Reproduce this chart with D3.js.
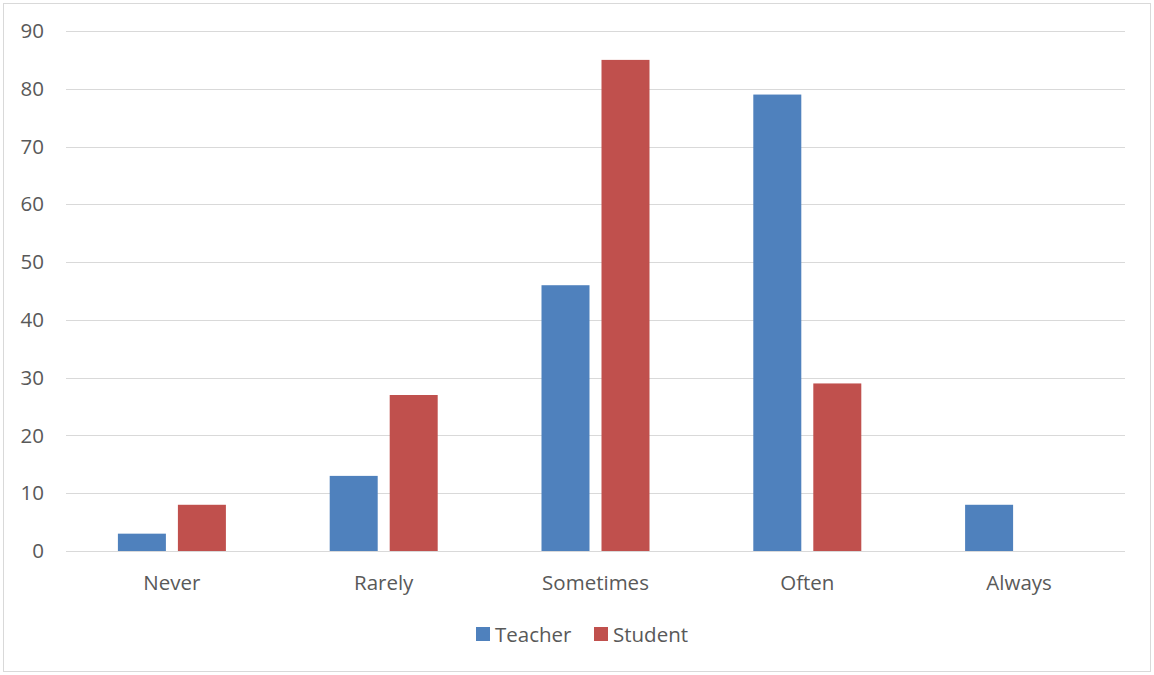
<!DOCTYPE html>
<html>
<head>
<meta charset="utf-8">
<script src="https://cdn.jsdelivr.net/npm/d3@7"></script>
<style>
  html, body { margin: 0; padding: 0; background: #fff; }
  svg { display: block; font-family: "Open Sans", "Noto Sans", sans-serif; }
</style>
</head>
<body>
<svg id="chart" width="1154" height="675"></svg>
<script>
// Response frequency by group
const categories = ["Never", "Rarely", "Sometimes", "Often", "Always"];
const seriesNames = ["Teacher", "Student"];
const teacherValues = [3, 13, 46, 79, 8];
const studentValues = [8, 27, 85, 29, 0];
const yTicks = [0, 10, 20, 30, 40, 50, 60, 70, 80, 90];
const colors = ["#4f81bd", "#c0504d"];

const svg = d3.select("#chart");
const W = 1154, H = 675;
const plot = { left: 66, right: 1125, top: 31, bottom: 551 };
const fontSize = 20.5;

// outer chart frame
svg.append("rect")
  .attr("x", 3.5).attr("y", 3.5)
  .attr("width", W - 7).attr("height", H - 7)
  .attr("fill", "#fff").attr("stroke", "#d9d9d9").attr("stroke-width", 1);

const x = d3.scaleBand().domain(categories).range([plot.left, plot.right]).padding(0);
const y = d3.scaleLinear().domain([0, 90]).range([plot.bottom, plot.top]);

// bar geometry inside each category band
const barW = 48, barGap = 12;
const xs = d3.scaleBand().domain(seriesNames)
  .range([0, 2 * barW + barGap]).paddingInner(barGap / (barW + barGap));

// horizontal gridlines
svg.append("g").selectAll("line").data(yTicks).join("line")
  .attr("x1", plot.left).attr("x2", plot.right)
  .attr("y1", d => Math.round(y(d)) + 0.5).attr("y2", d => Math.round(y(d)) + 0.5)
  .attr("stroke", "#d9d9d9").attr("stroke-width", 1);

// y axis labels
const yAxis = d3.axisLeft(y).tickValues(yTicks).tickSize(0).tickPadding(0);
const gy = svg.append("g").attr("transform", "translate(44,0)").call(yAxis);
gy.select(".domain").remove();
gy.selectAll("text")
  .attr("fill", "#595959").attr("font-size", fontSize)
  .attr("font-family", "\"Open Sans\", sans-serif");

// bars
const rows = categories.map((c, i) => ({ cat: c, vals: [teacherValues[i], studentValues[i]] }));
const groupOffset = (x.bandwidth() - (2 * barW + barGap)) / 2;
const groups = svg.append("g").selectAll("g").data(rows).join("g")
  .attr("transform", d => `translate(${x(d.cat) + groupOffset},0)`);
groups.selectAll("rect")
  .data(d => d.vals.map((v, j) => ({ name: seriesNames[j], v, j })))
  .join("rect")
  .attr("x", d => xs(d.name))
  .attr("width", xs.bandwidth())
  .attr("y", d => y(d.v))
  .attr("height", d => y(0) - y(d.v))
  .attr("fill", d => colors[d.j]);

// x axis labels
const xAxis = d3.axisBottom(x).tickSize(0).tickPadding(0);
const gx = svg.append("g").attr("transform", `translate(0,${plot.bottom + 24})`).call(xAxis);
gx.select(".domain").remove();
gx.selectAll("text")
  .attr("fill", "#595959").attr("font-size", fontSize)
  .attr("font-family", "\"Open Sans\", sans-serif");

// legend
const legend = svg.append("g").attr("transform", "translate(476,627)");
const items = [{ name: seriesNames[0], dx: 0 }, { name: seriesNames[1], dx: 118 }];
items.forEach((it, i) => {
  const g = legend.append("g").attr("transform", `translate(${it.dx},0)`);
  g.append("rect").attr("width", 14).attr("height", 14).attr("fill", colors[i]);
  g.append("text").attr("x", 19).attr("y", 15)
    .attr("fill", "#595959").attr("font-size", fontSize)
    .text(it.name);
});
</script>
</body>
</html>
